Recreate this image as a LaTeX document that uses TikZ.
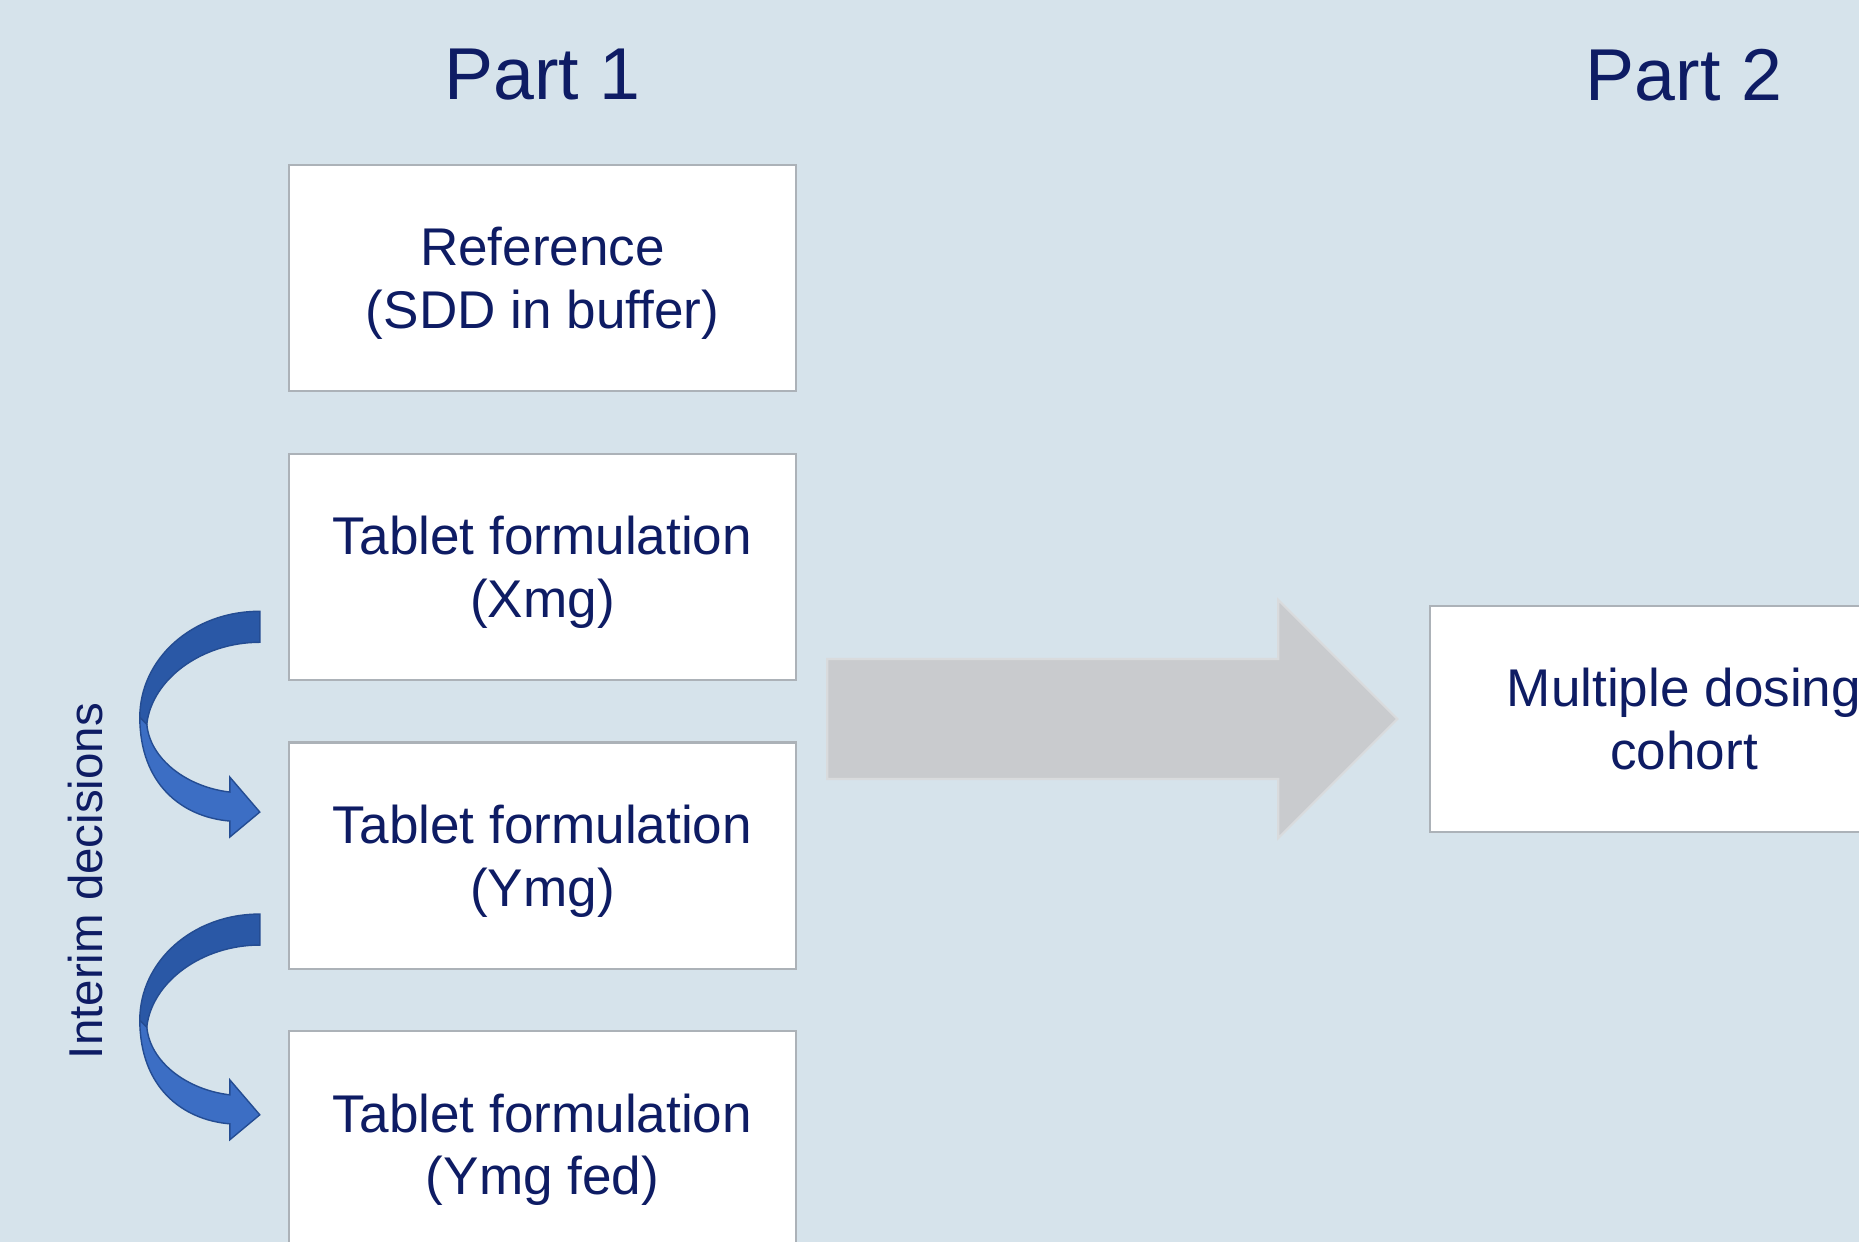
\documentclass[tikz,border=0pt]{standalone}
\usepackage{fontspec}
\setmainfont{Liberation Sans}
\usetikzlibrary{positioning, calc}

\definecolor{bgblue}{RGB}{214,227,235}
\definecolor{navy}{RGB}{14,28,100}
\definecolor{boxedge}{RGB}{172,178,184}
\definecolor{arrowgray}{RGB}{201,203,206}
\definecolor{ribbondark}{RGB}{42,88,166}
\definecolor{ribbonlight}{RGB}{60,110,196}
\definecolor{ribbonedge}{RGB}{36,76,146}

\begin{document}
\begin{tikzpicture}[
    x=0.01cm, y=-0.01cm,
    node distance=0.605cm,
    stepbox/.style={rectangle, draw=boxedge, line width=0.6pt, fill=white, minimum width=5.07cm, minimum height=2.26cm, align=center, text depth=0pt, text=navy, font=\fontsize{15.1}{17.8}\selectfont},
    parttitle/.style={text=navy, font=\fontsize{20.9}{24}\selectfont},
    sidelabel/.style={text=navy, rotate=90, font=\fontsize{13.5}{16}\selectfont},
    bigarrow/.style={fill=arrowgray, draw=arrowgray!70!white, line width=0.6pt},
    ribbon/.style={draw=ribbonedge, line width=0.4pt}
]
    % Canvas
    \useasboundingbox (0,0) rectangle (1859,1242);
    \clip (0,0) rectangle (1859,1242);
    \fill[bgblue] (0,0) rectangle (1859,1242);

    % Part 1 column
    \node[stepbox] (t1) at (542.5,278) {Reference\\(SDD in buffer)};
    \node[stepbox, below=of t1] (t2) {Tablet formulation\\(Xmg)};
    \node[stepbox, below=of t2] (t3) {Tablet formulation\\(Ymg)};
    \node[stepbox, below=of t3] (t4) {Tablet formulation\\(Ymg fed)};

    % Part 2
    \node[stepbox] (mdc) at (1684,719) {Multiple dosing\\cohort};

    % Titles
    \node[parttitle] (p1) at (542.5,75) {Part 1};
    \node[parttitle] (p2) at (1684,75) {Part 2};
    \node[sidelabel] (interim) at (86,881) {Interim decisions};

    % Big arrow to Part 2
    \coordinate (gs) at ($(t2.east |- mdc.west)+(30,0)$);
    \coordinate (gt) at ($(mdc.west)+(-32,0)$);
    \filldraw[bigarrow] ($(gs)+(0,-60)$) -- ($(gt)+(-119,-60)$) -- ($(gt)+(-119,-119)$)
        -- (gt) -- ($(gt)+(-119,119)$) -- ($(gt)+(-119,60)$) -- ($(gs)+(0,60)$) -- cycle;

    % Interim decision arrows
    \foreach \a/\b/\d in {t2/t3/0, t3/t4/14} {
        \coordinate (s) at ($(\a.west)+(-28,44.5+\d)$);
        \coordinate (e) at ($(\b.west)+(-28,-43.5+\d)$);
        \filldraw[ribbon, fill=ribbonlight, shift={(e)}] (-120,-95)
            .. controls (-120,-28) and (-78,5) .. (-30,9) -- (-30,25) -- (0,0)
            -- (-30,-35) -- (-30,-20) .. controls (-73,-25) and (-110,-53) .. (-113,-88) -- cycle;
        \filldraw[ribbon, fill=ribbondark, shift={(s)}] (0,0)
            .. controls (-68,0) and (-120,48) .. (-120,106) -- (-113,113)
            .. controls (-108,68) and (-58,31) .. (0,31) -- cycle;
    }

\end{tikzpicture}
\end{document}
